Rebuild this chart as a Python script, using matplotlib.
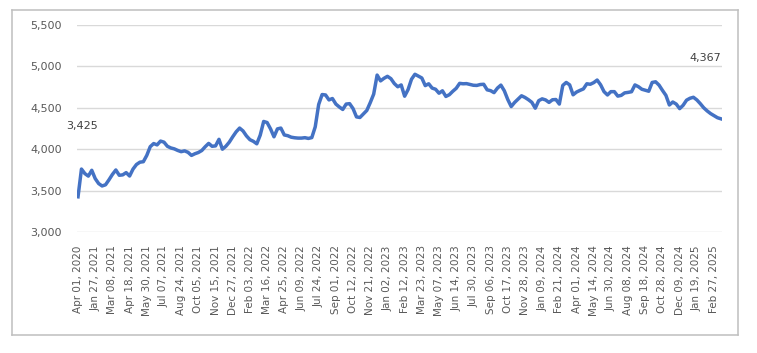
import matplotlib
matplotlib.use("Agg")
import matplotlib.pyplot as plt
from matplotlib.ticker import StrMethodFormatter

# index values (roughly 5 samples between two date labels)
values = [
    3425, 3760, 3705, 3675, 3745, 3645, 3585, 3556, 3570, 3630,
    3695, 3749, 3685, 3690, 3717, 3676, 3760, 3815, 3843, 3849,
    3925, 4030, 4068, 4052, 4098, 4085, 4035, 4015, 4004, 3985,
    3970, 3980, 3962, 3925, 3945, 3960, 3984, 4030, 4070, 4035,
    4040, 4119, 4000, 4035, 4085, 4150, 4210, 4255, 4220, 4160,
    4115, 4095, 4065, 4170, 4335, 4322, 4245, 4150, 4245, 4255,
    4172, 4163, 4145, 4138, 4134, 4134, 4139, 4130, 4140, 4270,
    4540, 4660, 4655, 4595, 4612, 4545, 4510, 4480, 4545, 4550,
    4490, 4390, 4383, 4425, 4468, 4562, 4665, 4895, 4825, 4856,
    4880, 4852, 4793, 4754, 4776, 4640, 4720, 4845, 4905, 4883,
    4860, 4768, 4790, 4738, 4724, 4676, 4705, 4637, 4658, 4699,
    4735, 4795, 4790, 4792, 4782, 4772, 4770, 4781, 4784, 4717,
    4707, 4683, 4738, 4774, 4705, 4600, 4515, 4565, 4605, 4645,
    4625, 4598, 4566, 4495, 4586, 4608, 4595, 4565, 4597, 4600,
    4545, 4770, 4806, 4777, 4657, 4690, 4710, 4728, 4790, 4784,
    4804, 4835, 4778, 4695, 4655, 4695, 4695, 4641, 4650, 4680,
    4686, 4694, 4776, 4755, 4724, 4712, 4700, 4806, 4814, 4774,
    4710, 4650, 4534, 4570, 4545, 4490, 4530, 4592, 4615, 4627,
    4595, 4550, 4500, 4462, 4430, 4405, 4380, 4367,
]

x_labels = [
    "Apr 01, 2020", "Jan 27, 2021", "Mar 08, 2021", "Apr 18, 2021",
    "May 30, 2021", "Jul 07, 2021", "Aug 24, 2021", "Oct 05, 2021",
    "Nov 15, 2021", "Dec 27, 2021", "Feb 03, 2022", "Mar 16, 2022",
    "Apr 25, 2022", "Jun 09, 2022", "Jul 24, 2022", "Sep 01, 2022",
    "Oct 12, 2022", "Nov 21, 2022", "Jan 02, 2023", "Feb 12, 2023",
    "Mar 23, 2023", "May 07, 2023", "Jun 14, 2023", "Jul 30, 2023",
    "Sep 06, 2023", "Oct 17, 2023", "Nov 28, 2023", "Jan 09, 2024",
    "Feb 21, 2024", "Apr 01, 2024", "May 14, 2024", "Jun 30, 2024",
    "Aug 08, 2024", "Sep 18, 2024", "Oct 28, 2024", "Dec 09, 2024",
    "Jan 19, 2025", "Feb 27, 2025",
]

y_ticks = [3000, 3500, 4000, 4500, 5000, 5500]

LABEL_STEP = 5
LINE_COLOR = "#4472C4"
GRID_COLOR = "#D9D9D9"
TEXT_COLOR = "#595959"


def create_line_chart():
    fig = plt.figure(figsize=(7.57, 3.53), dpi=100)
    fig.patch.set_facecolor("white")

    # empty axes used only as the thin frame around the chart area
    frame = fig.add_axes([0.0165, 0.052, 0.959, 0.921])
    frame.set_xticks([])
    frame.set_yticks([])
    for spine in frame.spines.values():
        spine.set_color("#BFBFBF")
        spine.set_linewidth(1.1)

    ax = fig.add_axes([0.1017, 0.3428, 0.852, 0.5864])
    ax.patch.set_alpha(0)
    x = list(range(len(values)))
    ax.plot(x, values, color=LINE_COLOR, linewidth=2.5, solid_joinstyle="round", zorder=3)

    ax.set_xlim(-0.3, len(values) - 0.7)
    ax.set_ylim(y_ticks[0], y_ticks[-1])
    ax.set_yticks(y_ticks)
    ax.yaxis.set_major_formatter(StrMethodFormatter("{x:,.0f}"))
    ax.grid(axis="y", color=GRID_COLOR, linewidth=1)
    ax.set_axisbelow(True)

    ax.set_xticks([i * LABEL_STEP for i in range(len(x_labels))])
    ax.set_xticklabels(x_labels, rotation=90, va="top", ha="center")

    for spine in ax.spines.values():
        spine.set_visible(False)
    ax.tick_params(axis="x", length=0, pad=9.5, labelsize=7.5, labelcolor=TEXT_COLOR)
    ax.tick_params(axis="y", length=0, pad=11, labelsize=8, labelcolor=TEXT_COLOR)

    # data labels for the first and last point
    ax.annotate(f"{values[0]:,}", (x[0], values[0]), textcoords="offset pixels",
                xytext=(4, 71), ha="center", va="center", fontsize=8, color="#404040")
    ax.annotate(f"{values[-1]:,}", (x[-1], values[-1]), textcoords="offset pixels",
                xytext=(-16, 61), ha="center", va="center", fontsize=8, color="#404040")

    fig.savefig("out.png", dpi=100)


def main():
    create_line_chart()


if __name__ == "__main__":
    main()
